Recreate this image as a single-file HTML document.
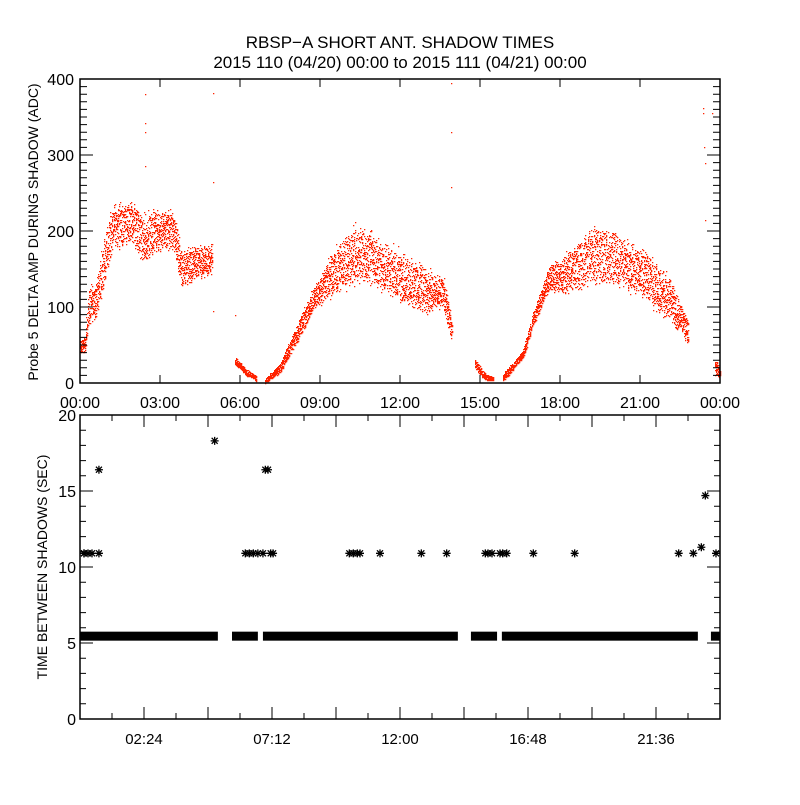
<!DOCTYPE html>
<html><head><meta charset="utf-8"><style>
html,body{margin:0;padding:0;background:#fff}
svg text{font-family:"Liberation Sans",sans-serif;fill:#000}
</style></head><body>
<svg id="chart" width="800" height="800" viewBox="0 0 800 800" xmlns="http://www.w3.org/2000/svg">
<rect width="800" height="800" fill="#fff"/>
<text x="400" y="48" font-size="17" text-anchor="middle">RBSP−A SHORT ANT. SHADOW TIMES</text>
<text x="400" y="68" font-size="17" text-anchor="middle">2015 110 (04/20) 00:00 to 2015 111 (04/21) 00:00</text>
<g id="topPanel"></g>
<g id="botPanel"></g>
</svg>
<script>
// ---- top panel data (hours, lower/upper envelope of scatter, null = gap)
const envHours = [0,0.2,0.3,0.6,0.9,1.2,2.0,2.35,2.5,2.7,3.5,3.8,4.5,4.95, null, 5.8,6.2,6.6, null, 6.95,7.5,8.0,8.8,9.5,10.3,11.0,12.0,13.0,13.4,13.6,13.95, null, 14.8,15.2,15.5, null, 15.85,16.6,17.0,17.6,18.2,19.2,20.0,21.0,22.0,22.8, null, 23.8,24.0];
const envLo    = [35,40,70,80,120,170,175,150,150,165,170,120,135,140, null, 24,10,2, null, 0,12,42,95,110,125,120,100,85,95,90,50, null, 18,3,2, null, 1,30,75,120,110,125,120,108,78,50, null, 8,5];
const envHi    = [60,62,130,140,200,240,245,225,230,235,235,180,185,190, null, 36,20,10, null, 6,28,70,132,182,215,205,180,160,145,150,85, null, 32,14,8, null, 12,45,95,160,175,215,210,185,152,85, null, 35,20];
const outHours = [2.45,2.45,2.45,2.45,5.0,5.0,5.0,5.8,13.9,13.9,13.9,23.35,23.35,23.4,23.45,23.45,23.7];
const outVals  = [380,342,330,285,382,264,95,90,395,330,258,362,355,310,290,215,355];
// ---- bottom panel data
const bandStart = [0,5.7,6.86,14.66,15.82,23.66];
const bandEnd   = [5.17,6.67,14.17,15.64,23.17,24];
const bandVal = 5.45;
const starHours = [0,0.15,0.3,0.45,0.71,0.71,5.05,6.2,6.35,6.5,6.67,6.86,6.95,7.05,7.15,7.24,10.1,10.25,10.4,10.5,11.25,12.8,13.75,15.2,15.3,15.45,15.75,15.85,16.0,17.0,18.55,22.45,23.0,23.3,23.45,23.85];
const starVals  = [10.9,10.9,10.9,10.9,10.9,16.4,18.3,10.9,10.9,10.9,10.9,10.9,16.4,16.4,10.9,10.9,10.9,10.9,10.9,10.9,10.9,10.9,10.9,10.9,10.9,10.9,10.9,10.9,10.9,10.9,10.9,10.9,10.9,11.3,14.7,10.9];
const topXTicks = ["00:00","03:00","06:00","09:00","12:00","15:00","18:00","21:00","00:00"];
const topYTicks = [0,100,200,300,400];
const botXTicks = ["02:24","07:12","12:00","16:48","21:36"];
const botYTicks = [0,5,10,15,20];

const NS="http://www.w3.org/2000/svg";
const X0=80,X1=720;
const xs=h=>X0+(h/24)*(X1-X0);
const T0=79,T1=383, yT=v=>T1-(v/400)*(T1-T0);
const B0=415,B1=719, yB=v=>B1-(v/20)*(B1-B0);
function mk(tag,attrs,parent){const e=document.createElementNS(NS,tag);for(const k in attrs)e.setAttribute(k,attrs[k]);parent.appendChild(e);return e;}
const topG=document.getElementById('topPanel'), botG=document.getElementById('botPanel');

// top scatter
let d="";
let seed=12345;
function rnd(){seed=(seed*1103515245+12345)&0x7fffffff;return seed/0x7fffffff;}
for(let i=0;i<envHours.length-1;i++){
  if(envHours[i]===null||envHours[i+1]===null)continue;
  const h0=envHours[i],h1=envHours[i+1];
  const n=Math.round((h1-h0)*360);
  for(let k=0;k<n;k++){
    const t=(k+rnd())/n, h=h0+t*(h1-h0);
    const lo=envLo[i]+t*(envLo[i+1]-envLo[i]), hi=envHi[i]+t*(envHi[i+1]-envHi[i]);
    const r=rnd()*0.7+((rnd()+rnd())/2)*0.3;
    const v=lo+r*(hi-lo);
    d+="M"+Math.round(xs(h))+" "+Math.round(yT(v))+"h1.3v1.3h-1.3z";
  }
}
for(let i=0;i<outHours.length;i++){d+="M"+Math.round(xs(outHours[i]))+" "+Math.round(yT(outVals[i]))+"h1.3v1.3h-1.3z";}
const sc=mk('path',{d:d,fill:'#ff2200'},topG);



// top frame & ticks
const tf=mk('rect',{x:X0,y:T0,width:X1-X0,height:T1-T0,fill:'none',stroke:'#000','stroke-width':1.5},topG);


let tk="";
for(let v=0;v<=400;v+=10){const y=yT(v),L=(v%100===0)?13:7;tk+=`M${X0} ${y}h${L}M${X1} ${y}h${-L}`;}
for(let i=0;i<topXTicks.length;i++){const x=xs(i*3);tk+=`M${x} ${T1}v-8M${x} ${T0}v8`;}
const tt=mk('path',{d:tk,stroke:'#000','stroke-width':1,fill:'none'},topG);


topXTicks.forEach((s,i)=>{const t=mk('text',{x:xs(i*3),y:408,'font-size':16,'text-anchor':'middle'},topG);t.textContent=s;

});
topYTicks.forEach(v=>{const t=mk('text',{x:74,y:yT(v)+6,'font-size':16,'text-anchor':'end'},topG);t.textContent=v;

});
const ty=mk('text',{x:0,y:0,'font-size':14,'text-anchor':'middle',transform:'translate(38,232) rotate(-90)'},topG);
ty.textContent="Probe 5 DELTA AMP DURING SHADOW (ADC)";



// bottom band and stars
for(let i=0;i<bandStart.length;i++){
  const r=mk('rect',{x:xs(bandStart[i]),y:yB(bandVal)-4.5,width:xs(bandEnd[i])-xs(bandStart[i]),height:9,fill:'#000'},botG);
  
  
}
for(let i=0;i<starHours.length;i++){
  const x=Math.min(Math.max(xs(starHours[i]),X0+4),X1-4), y=yB(starVals[i]);
  const s=mk('path',{d:`M${x-4} ${y}h8M${x} ${y-4}v8M${x-3} ${y-3}l6 6M${x-3} ${y+3}l6 -6`,stroke:'#000','stroke-width':1.3,fill:'none'},botG);
  
  
}
const bf=mk('rect',{x:X0,y:B0,width:X1-X0,height:B1-B0,fill:'none',stroke:'#000','stroke-width':1.5},botG);


let bk="";
for(let v=0;v<=20;v+=1){const y=yB(v),L=(v%5===0)?13:6;bk+=`M${X0} ${y}h${L}M${X1} ${y}h${-L}`;}
for(let h=1.2;h<24;h+=1.2){const x=xs(h),L=(Math.round(h/1.2)%2===0)?12:6;bk+=`M${x} ${B1}v${-L}M${x} ${B0}v${L}`;}
const bt=mk('path',{d:bk,stroke:'#000','stroke-width':1,fill:'none'},botG);


botXTicks.forEach((s,i)=>{const t=mk('text',{x:xs(2.4+i*4.8),y:744,'font-size':15,'text-anchor':'middle'},botG);t.textContent=s;

});
botYTicks.forEach(v=>{const t=mk('text',{x:76,y:yB(v)+6,'font-size':16,'text-anchor':'end'},botG);t.textContent=v;

});
const by=mk('text',{x:0,y:0,'font-size':14,'text-anchor':'middle',transform:'translate(47,567) rotate(-90)'},botG);
by.textContent="TIME BETWEEN SHADOWS (SEC)";


</script>
</body></html>
